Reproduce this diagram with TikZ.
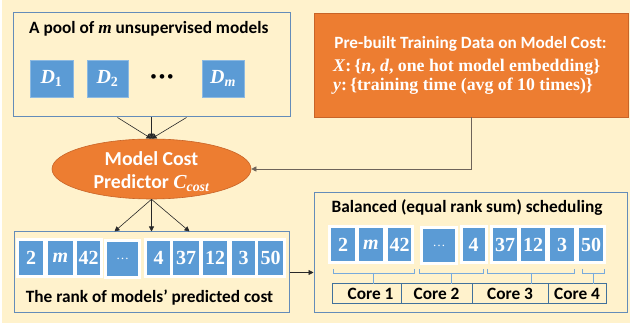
\documentclass[tikz,border=0pt]{standalone}
\usepackage{fontspec}
\setmainfont{Carlito}
\newfontfamily\mfont{Liberation Serif}
\usetikzlibrary{arrows.meta,shapes.geometric,calc}
\definecolor{cream}{RGB}{255,242,204}
\definecolor{cellblue}{RGB}{91,155,213}
\definecolor{dlight}{RGB}{140,185,225}
\definecolor{boxline}{RGB}{100,140,185}
\definecolor{orng}{RGB}{237,125,49}
\definecolor{orline}{RGB}{200,100,40}
\definecolor{coreline}{RGB}{65,113,156}
\definecolor{conline}{RGB}{40,40,40}
\definecolor{greyline}{RGB}{110,100,90}
\definecolor{bracecol}{RGB}{120,170,220}
\begin{document}
\begin{tikzpicture}[x=1pt,y=-1pt,
  bluebox/.style={rectangle, draw=boxline, line width=1pt, fill=cream, inner sep=0pt},
  orbox/.style={rectangle, draw=orline, line width=0.6pt, fill=orng, inner sep=0pt},
  cell/.style={rectangle, fill=cellblue, draw=white, line width=3pt, inner sep=0pt, text=white,
     minimum height=37pt, font=\mfont\bfseries\fontsize{20}{20}\selectfont},
  bcell/.style={cell, minimum height=36pt},
  dcell/.style={rectangle, fill=cellblue, draw=dlight, line width=0.8pt, inner sep=0pt, text=white,
     minimum height=37pt, font=\mfont\bfseries\itshape\fontsize{20}{20}\selectfont},
  corecell/.style={rectangle, draw=coreline, line width=1pt, fill=cream, inner sep=0pt,
     minimum height=20pt, font=\bfseries\fontsize{17.3}{17.3}\selectfont},
  title/.style={inner sep=0pt, font=\bfseries\fontsize{17.3}{17.3}\selectfont},
  wtext/.style={inner sep=0pt, text=white},
  conn/.style={draw=conline, line width=0.6pt, -{Triangle[length=5pt,width=5pt]}},
  brace/.style={draw=bracecol, line width=0.8pt}
]
\useasboundingbox (0,0) rectangle (632,328);
\fill[cream] (2,0) rectangle (630,323);

% top-left pool box
\node[bluebox, minimum width=277pt, minimum height=104pt] (pool) at (151.5,65) {};
\node[title, anchor=west] (pooltitle) at (29,29) {A pool of {\mfont\itshape m} unsupervised models};
\node[dcell, minimum width=43pt] (d1) at (51.5,78.5) {D\textsubscript{\upshape 1}};
\node[dcell, minimum width=41pt] (d2) at (107.5,78.5) {D\textsubscript{\upshape 2}};
\node[inner sep=0pt, font=\fontsize{13}{13}\selectfont] (dots) at (162,78) {•\hspace{2pt}•\hspace{2pt}•};
\node[dcell, minimum width=42pt] (dm) at (223,78.5) {D\textsubscript{m}};

% orange training data box
\node[orbox, minimum width=314pt, minimum height=104pt] (train) at (471,65) {};
\node[wtext, anchor=base, font=\bfseries\fontsize{17.2}{17.2}\selectfont] (t1) at (470.5,49) {Pre-built Training Data on Model Cost:};
\node[wtext, anchor=base west, font=\mfont\bfseries\fontsize{17.8}{17.8}\selectfont] (t2) at (333,72)
  {\textit{X}:\,\{\textit{n}, \textit{d}, one hot model embedding\}};
\node[wtext, anchor=base west, font=\mfont\bfseries\fontsize{17.8}{17.8}\selectfont] (t3) at (333,91)
  {\textit{y}:\,\{training time (avg of 10 times)\}};

% predictor ellipse
\node[ellipse, draw=orline, line width=0.6pt, fill=orng, minimum width=199pt, minimum height=60pt, inner sep=0pt] (pred) at (151.5,169) {};
\node[wtext, font=\bfseries\fontsize{19.8}{19.8}\selectfont] (p1) at (151.5,159) {Model Cost};
\node[wtext, font=\bfseries\fontsize{19.8}{19.8}\selectfont] (p2) at (151.5,183)
  {Predictor {\mfont\itshape C\textsubscript{cost}}};

% rank box
\node[bluebox, minimum width=275pt, minimum height=81pt] (rank) at (151.5,272.5) {};
\node[cell, minimum width=27pt] (r1) at (31,258) {2};
\node[cell, minimum width=28pt] (r2) at (60.5,258) {\itshape m};
\node[cell, minimum width=26pt] (r3) at (88.5,258) {42};
\node[cell, minimum width=34pt, font=\mfont\fontsize{13}{13}\selectfont] (r4) at (122.5,259) {…};
\node[cell, minimum width=26pt] (r5) at (158.5,258) {4};
\node[cell, minimum width=29pt] (r6) at (186,258) {37};
\node[cell, minimum width=27pt] (r7) at (215,258) {12};
\node[cell, minimum width=26pt] (r8) at (243.5,258) {3};
\node[cell, minimum width=28pt] (r9) at (270.5,258) {50};
\node[title] (ranktitle) at (149.5,298) {The rank of models’ predicted cost};

% balanced box
\node[bluebox, minimum width=313pt, minimum height=120pt] (bal) at (470.5,253) {};
\node[title] (baltitle) at (467,208) {Balanced (equal rank sum) scheduling};
\node[bcell, minimum width=27pt] (b1) at (343,244.5) {2};
\node[bcell, minimum width=27pt] (b2) at (371,244.5) {\itshape m};
\node[bcell, minimum width=26pt] (b3) at (399.5,244.5) {42};
\node[bcell, minimum width=35pt, font=\mfont\fontsize{13}{13}\selectfont] (b4) at (439,245.5) {…};
\node[bcell, minimum width=25pt] (b5) at (473.5,244.5) {4};
\node[bcell, minimum width=27pt] (b6) at (505,244.5) {37};
\node[bcell, minimum width=27pt] (b7) at (533,244.5) {12};
\node[bcell, minimum width=27pt] (b8) at (562,244.5) {3};
\node[bcell, minimum width=27pt] (b9) at (591,244.5) {50};

% core table
\node[corecell, minimum width=69pt] (c1) at (366.5,294) {\hspace{8pt}Core 1};
\node[corecell, minimum width=71pt] (c2) at (436.5,294) {Core 2};
\node[corecell, minimum width=76pt] (c3) at (510,294) {Core 3};
\node[corecell, minimum width=58pt] (c4) at (577,294) {Core 4};

% braces
\draw[brace] (333,269) -- (333,273) -- (414,273) -- (414,269);
\draw[brace] (373,273) -- (373,284);
\draw[brace] (419,269) -- (419,273) -- (483,273) -- (483,269);
\draw[brace] (451,273) -- (451,284);
\draw[brace] (487,269) -- (487,273) -- (574,273) -- (574,269);
\draw[brace] (531,273) -- (531,284);
\draw[brace] (582,269) -- (582,273) -- (604,273) -- (604,269);
\draw[brace] (593,273) -- (593,284);

% connectors
\draw[conn] ([xshift=-34pt]pool.south) -- (pred.north);
\draw[conn] (pool.south) -- (pred.north);
\draw[conn] ([xshift=35pt]pool.south) -- (pred.north);
\draw[conn, draw=greyline] (train.south) |- (pred.east);
\draw[conn] (pred.south) -- ([xshift=-37pt]rank.north);
\draw[conn] (pred.south) -- (rank.north);
\draw[conn] (pred.south) -- ([xshift=38pt]rank.north);
\draw[conn] (rank.east) -- (rank.east -| bal.west);
\end{tikzpicture}
\end{document}
